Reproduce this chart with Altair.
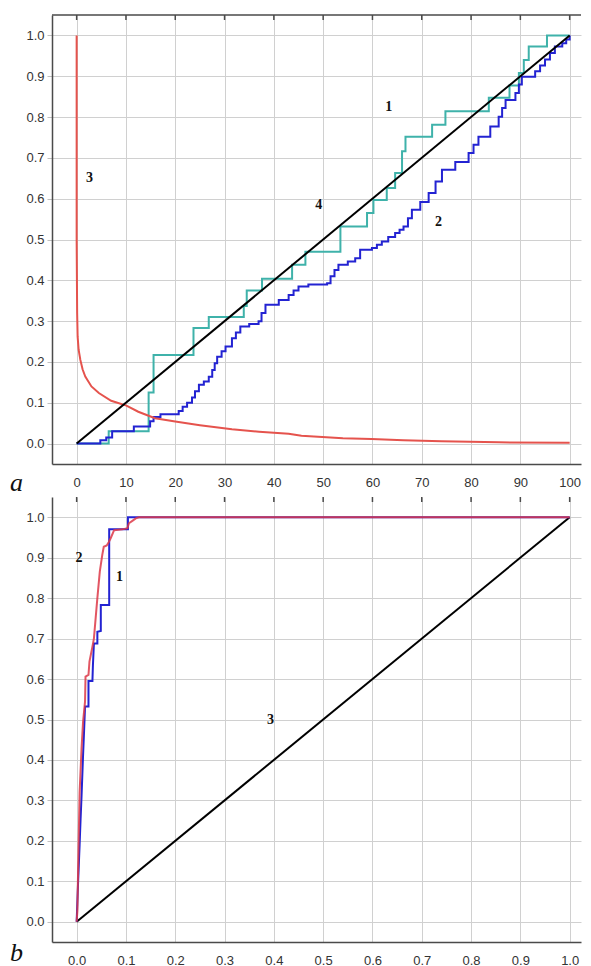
import altair as alt
import pandas as pd

# ---------------- data: panel a ----------------
a_x_ticks = [0, 10, 20, 30, 40, 50, 60, 70, 80, 90, 100]
y_ticks = [0.0, 0.1, 0.2, 0.3, 0.4, 0.5, 0.6, 0.7, 0.8, 0.9, 1.0]

a1_x = [0, 6.5, 14.6, 15.6, 23.7, 26.8, 33.9, 34.5, 37.6, 43.7, 46.4, 53.5, 58.9, 60.2,
        62.9, 64.6, 66.0, 66.7, 72.1, 74.8, 83.6, 87.8, 89.7, 90.7, 91.7, 95.4, 100]
a1_y = [0, 0.03, 0.125, 0.217, 0.283, 0.31, 0.337, 0.375, 0.404, 0.438, 0.47, 0.532, 0.565, 0.597,
        0.626, 0.663, 0.716, 0.752, 0.781, 0.814, 0.847, 0.877, 0.908, 0.94, 0.973, 1.0, 1.0]

a2_x = [0, 4.8, 6.0, 7.2, 11.6, 14.9, 15.6, 17.0, 20.7, 21.5, 22.4, 23.4, 24.0, 24.8, 25.8, 26.8,
        27.5, 28.0, 28.5, 29.4, 30.2, 31.5, 32.3, 33.2, 35.0, 36.9, 37.5, 38.3, 41.0, 43.0, 44.0,
        45.0, 47.0, 50.8, 51.5, 52.3, 53.1, 55.0, 56.5, 57.5, 59.9, 60.9, 61.9, 63.2, 64.6, 65.5,
        66.3, 67.2, 68.0, 69.7, 71.4, 72.8, 74.1, 76.8, 79.5, 80.5, 81.5, 83.9, 85.6, 86.3, 87.0,
        89.0, 89.7, 90.3, 93.0, 94.0, 95.0, 96.0, 97.0, 98.5, 99.3, 100]
a2_y = [0, 0.008, 0.015, 0.03, 0.042, 0.055, 0.065, 0.072, 0.08, 0.09, 0.1, 0.113, 0.128, 0.144, 0.152, 0.164,
        0.18, 0.197, 0.213, 0.226, 0.238, 0.258, 0.272, 0.287, 0.293, 0.3, 0.32, 0.34, 0.352, 0.364, 0.375,
        0.385, 0.39, 0.393, 0.41, 0.425, 0.438, 0.446, 0.454, 0.475, 0.479, 0.487, 0.495, 0.506, 0.516, 0.524,
        0.532, 0.552, 0.573, 0.592, 0.614, 0.642, 0.671, 0.69, 0.712, 0.732, 0.752, 0.777, 0.801, 0.822, 0.842,
        0.859, 0.88, 0.899, 0.912, 0.926, 0.941, 0.957, 0.973, 0.981, 0.99, 1.0]

a3_x = [0, 0, 0.1, 0.2, 0.4, 0.75, 1.2, 1.75, 3.0, 4.5, 7.0, 10.1, 12.5, 15.9, 20, 25, 31.5, 37, 43,
        45.6, 54, 59.8, 66.3, 74, 85.6, 100]
a3_y = [1.0, 0.5, 0.32, 0.262, 0.23, 0.205, 0.182, 0.164, 0.14, 0.124, 0.105, 0.093, 0.078, 0.062,
        0.054, 0.045, 0.035, 0.029, 0.024, 0.019, 0.013, 0.011, 0.008, 0.006, 0.003, 0.002]

a4_x = [0, 100]
a4_y = [0, 1]

a_lab_x = [63.3, 73.4, 2.6, 49.1]
a_lab_y = [0.825, 0.542, 0.651, 0.585]
a_lab_t = ["1", "2", "3", "4"]

# ---------------- data: panel b ----------------
b_x_ticks = [0.0, 0.1, 0.2, 0.3, 0.4, 0.5, 0.6, 0.7, 0.8, 0.9, 1.0]

b1_x = [0, 0.003, 0.006, 0.008, 0.01, 0.013, 0.015, 0.017, 0.024, 0.024, 0.032, 0.033, 0.035, 0.042,
        0.042, 0.049, 0.049, 0.066, 0.066, 0.104, 0.104, 1.0]
b1_y = [0, 0.1, 0.19, 0.255, 0.313, 0.412, 0.47, 0.532, 0.532, 0.595, 0.595, 0.634, 0.688, 0.688,
        0.717, 0.719, 0.783, 0.783, 0.97, 0.97, 1.0, 1.0]

b2_x = [0, 0.0014, 0.0034, 0.006, 0.01, 0.013, 0.017, 0.018, 0.024, 0.026, 0.032, 0.035, 0.0385, 0.042,
        0.047, 0.052, 0.055, 0.061, 0.065, 0.069, 0.076, 0.093, 0.103, 0.106, 0.113, 0.12, 0.126, 1.0]
b2_y = [0, 0.025, 0.157, 0.32, 0.43, 0.494, 0.544, 0.606, 0.61, 0.643, 0.68, 0.7, 0.75, 0.8,
        0.866, 0.907, 0.927, 0.93, 0.938, 0.948, 0.968, 0.97, 0.973, 0.985, 0.991, 0.997, 1.0, 1.0]

b3_x = [0, 1]
b3_y = [0, 1]

b_lab_x = [0.087, 0.005, 0.393]
b_lab_y = [0.853, 0.9, 0.499]
b_lab_t = ["1", "2", "3"]

# ---------------- styling ----------------
W = 529
HA = 449
HB = 445
GRID = "#d0d0d0"
DOM = "#4a4a4a"
LBL = "#333333"
FONT = "Liberation Sans"


def df(xs, ys):
    return pd.DataFrame({"x": xs, "y": ys, "i": list(range(len(xs)))})


def line(xs, ys, color, xs_scale, ys_scale, interp="linear", opacity=1.0, width=2):
    return alt.Chart(df(xs, ys)).mark_line(
        color=color, strokeWidth=width, interpolate=interp, opacity=opacity, clip=True
    ).encode(
        x=alt.X("x:Q", scale=xs_scale),
        y=alt.Y("y:Q", scale=ys_scale),
        order="i:Q",
    )


def axes(xs_scale, ys_scale, xvals, xfmt):
    base = alt.Chart(pd.DataFrame({"x": [xvals[0]], "y": [0.0]})).mark_point(opacity=0).encode(
        x=alt.X("x:Q", scale=xs_scale, title=None,
                axis=alt.Axis(values=xvals, format=xfmt, grid=True, gridColor=GRID, gridWidth=1,
                              ticks=False, labelPadding=12, domainColor=DOM, domainWidth=1.5,
                              labelFont=FONT, labelFontSize=13, labelColor=LBL)),
        y=alt.Y("y:Q", scale=ys_scale, title=None,
                axis=alt.Axis(values=y_ticks, format=".1f", grid=True, gridColor=GRID, gridWidth=1,
                              tickSize=5, tickColor="#c0c0c0", labelPadding=3, domainColor=DOM,
                              domainWidth=1.5, labelFont=FONT, labelFontSize=13, labelColor=LBL)),
    )
    return base


def top_ticks(xvals, xs_scale):
    return alt.Chart(pd.DataFrame({"x": xvals})).mark_rule(color=DOM, strokeWidth=1.5).encode(
        x=alt.X("x:Q", scale=xs_scale),
        y=alt.value(0),
        y2=alt.value(5),
    )


def labels(xs, ys, ts, xs_scale, ys_scale):
    return alt.Chart(pd.DataFrame({"x": xs, "y": ys, "t": ts})).mark_text(
        font="Liberation Serif", fontWeight="bold", fontSize=14, color="#111111"
    ).encode(
        x=alt.X("x:Q", scale=xs_scale),
        y=alt.Y("y:Q", scale=ys_scale),
        text="t:N",
    )


def panel_letter(letter, h):
    return alt.Chart(pd.DataFrame({"t": [letter]})).mark_text(
        font="Liberation Serif", fontStyle="italic", fontSize=26, color="#111111",
        align="left", baseline="alphabetic"
    ).encode(x=alt.value(-42), y=alt.value(h), text="t:N")


# ---------------- panel a ----------------
xa = alt.Scale(domain=[-5, 102.3], nice=False, zero=False)
ya = alt.Scale(domain=[-0.05, 1.05], nice=False, zero=False)

top_border = alt.Chart(pd.DataFrame({"v": [0]})).mark_rule(color=DOM, strokeWidth=1.5).encode(
    y=alt.value(0), x=alt.value(0), x2=alt.value(W)
)

panel_a = alt.layer(
    axes(xa, ya, a_x_ticks, "d"),
    top_border,
    top_ticks(a_x_ticks, xa),
    line(a1_x, a1_y, "#3fb2aa", xa, ya, interp="step-after"),
    line(a2_x, a2_y, "#2323d2", xa, ya, interp="step-after"),
    line(a3_x, a3_y, "#e5534d", xa, ya),
    line(a4_x, a4_y, "#000000", xa, ya),
    labels(a_lab_x, a_lab_y, a_lab_t, xa, ya),
    panel_letter("a", HA + 27),
).properties(width=W, height=HA)

# ---------------- panel b ----------------
xb = alt.Scale(domain=[-0.05, 1.023], nice=False, zero=False)
yb = alt.Scale(domain=[-0.05, 1.05], nice=False, zero=False)

panel_b = alt.layer(
    axes(xb, yb, b_x_ticks, ".1f"),
    top_ticks(b_x_ticks, xb),
    line(b3_x, b3_y, "#000000", xb, yb),
    line(b1_x, b1_y, "#2323d2", xb, yb),
    line(b2_x, b2_y, "#dd3848", xb, yb, opacity=0.85),
    labels(b_lab_x, b_lab_y, b_lab_t, xb, yb),
    panel_letter("b", HB + 19),
).properties(width=W, height=HB)

chart = alt.vconcat(panel_a, panel_b, spacing=33, bounds="flush").properties(
    padding={"left": 2, "top": 6, "right": 0, "bottom": 0},
    background="white",
).configure_view(stroke=None)

chart.save("out.html", embed_options={"renderer": "svg", "actions": False})
